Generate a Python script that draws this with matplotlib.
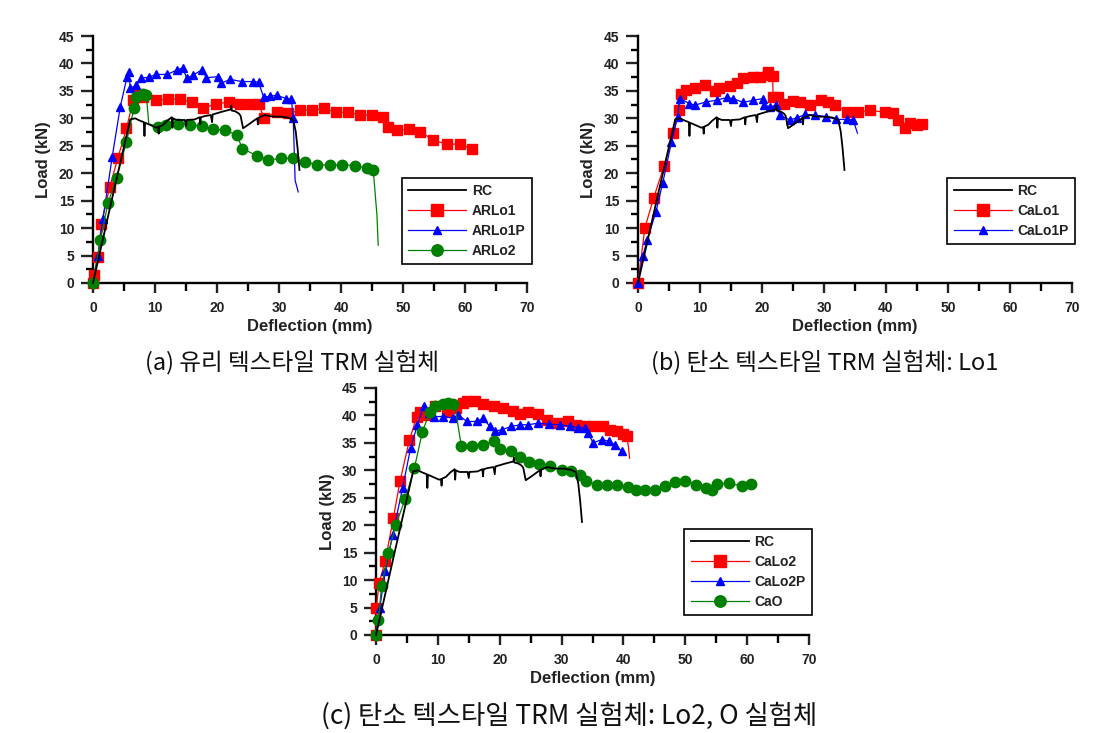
import matplotlib
matplotlib.use('Agg')
import matplotlib.pyplot as plt
from matplotlib.ticker import MultipleLocator

plt.rcParams['font.family'] = ['Liberation Sans', 'DejaVu Sans']
plt.rcParams['font.weight'] = 'bold'

# ---------------- data (Load kN vs Deflection mm) ----------------
rc_x = [0, 3, 6.0, 6.8, 7.5, 8.2, 8.3, 8.4, 9.2, 10.2, 10.5, 10.6, 10.7, 11.3, 12.0, 12.7, 12.8,
        12.9, 13.5, 14.8, 15.0, 15.1, 16.4, 17.2, 17.3, 17.4, 18.0, 19.0, 19.2, 19.3, 19.9, 20.8,
        21.8, 22.2, 22.3, 22.4, 22.9, 23.5, 23.8, 24.2, 25.0, 26.1, 26.5, 26.6, 26.7, 27.7, 28.5,
        29.3, 30.5, 31.5, 32.3, 32.7, 33.0, 33.3]
rc_y = [0, 15, 29.8, 30.0, 29.6, 29.3, 26.8, 29.2, 28.8, 28.3, 28.4, 27.2, 28.5, 28.8, 29.6, 30.2, 28.3,
        30.0, 29.7, 29.7, 28.6, 29.7, 29.8, 30.2, 28.9, 30.2, 30.4, 30.6, 29.3, 30.7, 30.9, 31.2,
        31.5, 31.6, 32.3, 31.4, 31.3, 30.9, 30.5, 28.2, 28.8, 29.7, 30.0, 28.9, 30.1, 30.6, 30.4,
        30.3, 30.3, 30.1, 29.7, 27.6, 24.5, 20.6]

# (a) glass textile
arlo1_x = [0, 0.1, 0.8, 1.35, 2.7, 4.0, 5.4, 6.5, 7.2, 8.1, 10.2, 12.1, 14.0, 16.0, 17.8, 19.8, 21.9,
           23.7, 25.5, 26.8, 27.5, 29.6, 31.5, 33.4, 35.3, 37.3, 39.2, 41.2, 43.1, 45.0, 46.8, 47.5,
           49.0, 50.9, 52.8, 54.9, 57.1, 59.2, 61.1]
arlo1_y = [0, 1.5, 4.7, 10.8, 17.5, 22.7, 28.2, 33.3, 34.5, 33.9, 33.3, 33.5, 33.5, 32.9, 31.8, 32.7, 32.9,
           32.7, 32.7, 32.6, 30.1, 31.1, 30.9, 31.5, 31.5, 31.8, 31.1, 31.1, 30.6, 30.6, 30.3, 28.5,
           27.8, 28.0, 27.6, 26.0, 25.3, 25.3, 24.4]
arlo1p_x = [0, 0.8, 1.6, 3.1, 4.4, 5.5, 5.8, 6.0, 7.0, 7.8, 9.0, 10.2, 12.0, 13.5, 14.5, 15.1, 16.2,
            17.5, 18.3, 20.2, 20.7, 22.1, 24.0, 25.8, 26.7, 27.5, 28.5, 29.6, 31.2, 32.0, 32.3, 32.6, 33.1]
arlo1p_y = [0, 5.0, 11.7, 23.0, 32.1, 37.6, 38.5, 35.5, 36.0, 37.3, 37.5, 38.0, 38.0, 38.8, 39.2, 37.3, 37.9,
            38.8, 37.4, 37.6, 36.4, 37.1, 36.7, 36.7, 36.6, 33.9, 34.0, 34.2, 33.6, 33.5, 30.0, 18.7, 16.6]
arlo2_x = [0, 1.2, 2.4, 3.8, 5.4, 6.6, 7.0, 8.1, 8.6, 9.0, 10.5, 11.8, 13.7, 15.6, 17.5, 19.4, 21.3,
           23.2, 24.1, 26.4, 28.3, 30.4, 32.3, 34.2, 36.1, 38.2, 40.1, 42.3, 44.2, 45.2, 45.8, 46.0]
arlo2_y = [0, 7.8, 14.5, 19.2, 25.7, 31.8, 33.9, 34.4, 34.2, 29.0, 28.5, 28.8, 29.0, 28.8, 28.6, 28.0, 27.9,
           26.9, 24.5, 23.2, 22.4, 22.7, 22.7, 22.1, 21.5, 21.5, 21.5, 21.4, 20.9, 20.6, 12.3, 6.9]

# (b) carbon textile Lo1
calo1_x = [0, 1.1, 2.5, 4.2, 5.7, 6.6, 6.9, 7.8, 9.2, 10.8, 12.4, 13.1, 14.8, 15.9, 17.0, 18.6, 19.7,
           20.9, 21.0, 21.7, 21.8, 22.6, 23.5, 25.0, 26.1, 27.7, 29.5, 30.7, 31.8, 33.7, 35.5, 37.4,
           39.8, 41.2, 42.0, 43.1, 43.9, 45.0, 45.8]
calo1_y = [0, 10.0, 15.4, 21.3, 27.3, 31.5, 34.5, 35.2, 35.5, 36.1, 35.0, 35.5, 35.8, 36.4, 37.4, 37.6, 37.6,
           37.9, 38.5, 37.8, 33.9, 33.9, 32.7, 33.1, 33.0, 32.4, 33.3, 33.0, 32.4, 31.1, 31.1, 31.5,
           31.1, 30.9, 29.7, 28.2, 29.1, 28.8, 28.9]
calo1p_x = [0, 0.8, 1.5, 2.9, 4.0, 5.4, 6.4, 6.7, 8.3, 9.2, 11.0, 12.7, 14.3, 15.3, 17.0, 18.6, 20.2,
            20.4, 21.3, 22.3, 22.9, 24.5, 25.6, 27.0, 28.5, 30.4, 32.0, 33.7, 34.7, 35.4]
calo1p_y = [0, 5.0, 7.9, 13.0, 18.3, 25.7, 30.3, 33.6, 32.7, 32.4, 33.0, 33.3, 33.8, 33.6, 32.9, 33.3, 33.6,
            32.4, 32.1, 32.4, 30.6, 29.7, 30.1, 30.7, 30.6, 30.3, 29.8, 29.8, 29.7, 27.3]

# (c) carbon textile Lo2, O
calo2_x = [0, 0.05, 0.5, 1.5, 2.8, 3.9, 5.4, 6.6, 7.1, 8.2, 9.5, 11.4, 13.0, 14.0, 14.7, 16.0, 17.3,
           19.0, 20.6, 22.2, 23.3, 24.6, 26.2, 27.6, 29.2, 31.1, 32.4, 33.8, 35.1, 36.7, 37.8, 38.9,
           40.0, 40.5, 40.8, 41.0]
calo2_y = [0, 4.9, 9.5, 13.5, 21.3, 28.1, 35.5, 39.8, 40.7, 40.1, 41.7, 40.7, 41.3, 42.3, 42.6, 42.7, 42.1,
           41.7, 41.3, 40.9, 40.3, 40.7, 40.3, 39.2, 38.6, 38.9, 38.3, 38.0, 38.0, 38.0, 37.4, 37.1,
           36.6, 36.2, 34.4, 32.2]
calo2p_x = [0, 0.6, 1.5, 2.7, 4.3, 5.6, 6.7, 7.7, 8.5, 9.3, 10.9, 12.5, 13.3, 14.7, 16.3, 17.3, 18.4,
            19.2, 20.3, 21.9, 23.3, 24.6, 26.2, 27.9, 29.7, 31.4, 32.7, 33.8, 34.3, 35.1, 36.5, 37.6,
            38.6, 39.7]
calo2p_y = [0, 4.9, 11.6, 18.3, 26.8, 34.1, 38.3, 41.7, 40.4, 39.8, 39.8, 39.5, 40.1, 38.9, 38.9, 39.5, 38.0,
            37.1, 37.4, 38.0, 38.3, 38.3, 38.6, 38.4, 38.3, 38.0, 37.8, 37.7, 36.8, 35.0, 35.6, 35.3,
            34.7, 33.5]
cao_x = [0, 0.4, 0.9, 2.0, 3.2, 4.7, 6.2, 7.5, 8.7, 9.5, 10.9, 11.7, 12.5, 12.9, 13.8, 15.6, 17.3, 19.0,
         20.0, 21.9, 23.3, 24.8, 26.4, 28.1, 30.0, 31.6, 32.9, 34.0, 35.7, 37.3, 38.9, 40.8, 42.1, 43.5,
         45.1, 46.7, 48.3, 49.9, 51.8, 53.4, 54.3, 55.1, 57.0, 59.1, 60.7]
cao_y = [0, 2.8, 8.9, 14.9, 20.1, 24.7, 30.4, 37.0, 40.7, 41.8, 42.1, 42.3, 42.0, 40.7, 34.4, 34.5, 34.7, 35.3,
         33.8, 33.5, 32.5, 31.5, 31.1, 30.7, 30.1, 29.8, 29.2, 28.0, 27.4, 27.4, 27.4, 26.9, 26.5, 26.5,
         26.5, 27.1, 27.9, 28.1, 27.4, 26.8, 26.5, 27.5, 27.7, 27.1, 27.5]

captions = ['(a) 유리 텍스타일 TRM 실험체',
            '(b) 탄소 텍스타일 TRM 실험체: Lo1',
            '(c) 탄소 텍스타일 TRM 실험체: Lo2, O 실험체']

RED, BLUE, GREEN = '#ff0000', '#0000ff', '#008000'

fig = plt.figure(figsize=(11.15, 7.33), dpi=100)
W, H = 1115.0, 733.0


def make_axes(x0, x1, y_top, y_bot):
    return fig.add_axes([x0 / W, 1 - y_bot / H, (x1 - x0) / W, (y_bot - y_top) / H])


def style(ax):
    ax.set_xlim(0, 70)
    ax.set_ylim(0, 45)
    for s in ['top', 'right']:
        ax.spines[s].set_visible(False)
    for s in ['left', 'bottom']:
        ax.spines[s].set_linewidth(1.7)
    ax.xaxis.set_major_locator(MultipleLocator(10))
    ax.xaxis.set_minor_locator(MultipleLocator(5))
    ax.yaxis.set_major_locator(MultipleLocator(5))
    ax.yaxis.set_minor_locator(MultipleLocator(2.5))
    ax.tick_params(axis='x', which='major', direction='out', length=7, width=1.7, pad=6,
                   labelsize=10, colors='#222222')
    ax.tick_params(axis='x', which='minor', direction='out', length=5.5, width=1.7)
    ax.tick_params(axis='y', which='major', direction='out', length=8.5, width=1.7, pad=5,
                   labelsize=10, colors='#222222')
    ax.tick_params(axis='y', which='minor', direction='out', length=5, width=1.7)
    ax.set_xlabel('Deflection (mm)', fontsize=12, fontweight='bold', va='center', color='#222222')
    ax.xaxis.set_label_coords(0.5, -0.178)
    ax.set_ylabel('Load (kN)', fontsize=12, fontweight='bold', va='center', color='#222222')
    ax.yaxis.set_label_coords(-0.113, 0.5)


def series(ax, x, y, color, marker, ms, label, mev=None):
    ax.plot(x, y, color=color, lw=0.9, marker=marker, ms=ms, mec=color, mfc=color,
            markevery=mev, label=label, clip_on=False, zorder=3)


def rc(ax):
    ax.plot(rc_x, rc_y, color='black', lw=1.3, label='RC', clip_on=False, zorder=3.5)


def legend(ax, x0, ytop):
    leg = ax.legend(loc='upper left', bbox_to_anchor=(x0, ytop), fancybox=False, framealpha=1,
                    edgecolor='black', fontsize=10, handlelength=4.2, handletextpad=0.4,
                    labelspacing=0.42, borderpad=0.45, numpoints=1, markerscale=1.1,
                    borderaxespad=0)
    leg.get_frame().set_linewidth(1.2)
    for t in leg.get_texts():
        t.set_color('#222222')


# panel (a)
axa = make_axes(93, 527, 36, 283)
style(axa)
rc(axa)
series(axa, arlo1_x, arlo1_y, RED, 's', 7.5, 'ARLo1')
series(axa, arlo1p_x, arlo1p_y, BLUE, '^', 5.5, 'ARLo1P', mev=list(range(len(arlo1p_x) - 2)))
series(axa, arlo2_x, arlo2_y, GREEN, 'o', 7.5, 'ARLo2', mev=[i for i in range(len(arlo2_x) - 2) if i != 9])
legend(axa, 0.711, 0.426)

# panel (b)
axb = make_axes(638, 1072, 36, 283)
style(axb)
rc(axb)
series(axb, calo1_x, calo1_y, RED, 's', 7.5, 'CaLo1')
series(axb, calo1p_x, calo1p_y, BLUE, '^', 5.5, 'CaLo1P', mev=list(range(len(calo1p_x) - 1)))
legend(axb, 0.713, 0.426)

# panel (c)
axc = make_axes(376, 809, 388, 635)
style(axc)
rc(axc)
series(axc, calo2_x, calo2_y, RED, 's', 7.5, 'CaLo2', mev=list(range(len(calo2_x) - 2)))
series(axc, calo2p_x, calo2p_y, BLUE, '^', 5.5, 'CaLo2P')
series(axc, cao_x, cao_y, GREEN, 'o', 7.5, 'CaO', mev=[i for i in range(len(cao_x)) if i != 13])
legend(axc, 0.712, 0.429)

cap_font = ['Noto Sans CJK KR', 'DejaVu Sans']
fig.text(292 / W, 1 - 362 / H, captions[0], ha='center', va='center', fontsize=17,
         family=cap_font, fontweight='normal', color='#111111')
fig.text(825 / W, 1 - 362 / H, captions[1], ha='center', va='center', fontsize=17,
         family=cap_font, fontweight='normal', color='#111111')
fig.text(569 / W, 1 - 716 / H, captions[2], ha='center', va='center', fontsize=19,
         family=cap_font, fontweight='normal', color='#111111')

fig.savefig('out.png', dpi=100)
